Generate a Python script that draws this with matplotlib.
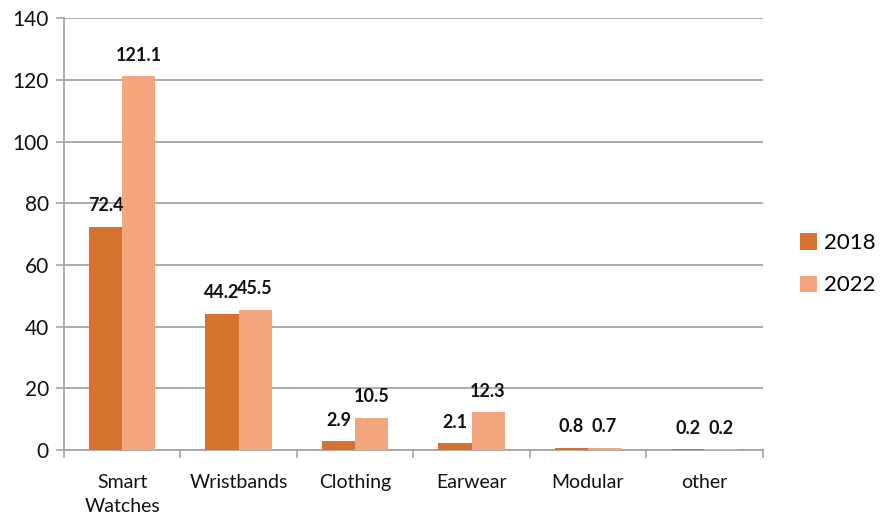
import numpy as np
import matplotlib.pyplot as plt

categories = ["Smart\nWatches", "Wristbands", "Clothing", "Earwear", "Modular", "other"]
values_2018 = [72.4, 44.2, 2.9, 2.1, 0.8, 0.2]
values_2022 = [121.1, 45.5, 10.5, 12.3, 0.7, 0.2]
years = ["2018", "2022"]

colors = ["#D4722E", "#F4A77F"]
grid_color = "#A6A6A6"
text_color = "#111111"

plt.rcParams["font.family"] = ["Lato", "DejaVu Sans"]

fig = plt.figure(figsize=(8.82, 5.19), dpi=100)
ax = fig.add_axes([0.0726, 0.133, 0.792, 0.832])

x = np.arange(len(categories))
w = 0.285
bars_a = ax.bar(x - w / 2, values_2018, w, color=colors[0], label=years[0], zorder=3)
bars_b = ax.bar(x + w / 2, values_2022, w, color=colors[1], label=years[1], zorder=3)

# value labels above each bar
for bars in (bars_a, bars_b):
    for b in bars:
        v = b.get_height()
        ax.annotate(f"{v:.1f}", (b.get_x() + b.get_width() / 2, v),
                    xytext=(0, 9), textcoords="offset points",
                    ha="center", va="bottom", fontsize=13, fontweight="bold",
                    color=text_color)

ax.set_xlim(-0.5, len(categories) - 0.5)
ax.set_ylim(0, 140)
ax.set_yticks(range(0, 141, 20))
ax.set_xticks(x)
ax.set_xticklabels(categories, fontsize=14, color=text_color, linespacing=1.5)
ax.set_xticks(np.arange(-0.5, len(categories), 1), minor=True)
ax.tick_params(axis="x", which="major", length=0, pad=17)
ax.tick_params(axis="x", which="minor", length=6, color=grid_color, width=1.2)
ax.tick_params(axis="y", length=6, color=grid_color, width=1.2, labelsize=15,
               labelcolor=text_color, pad=5)

ax.grid(axis="y", color=grid_color, linewidth=1.3, zorder=0)
for side in ("top", "right"):
    ax.spines[side].set_visible(False)
for side in ("left", "bottom"):
    ax.spines[side].set_color(grid_color)
    ax.spines[side].set_linewidth(1.3)

ax.legend(loc="center left", bbox_to_anchor=(1.025, 0.43), frameon=False,
          fontsize=16, handlelength=0.75, handleheight=0.75, labelspacing=1.0,
          handletextpad=0.35)

fig.savefig("out.png", dpi=100)
